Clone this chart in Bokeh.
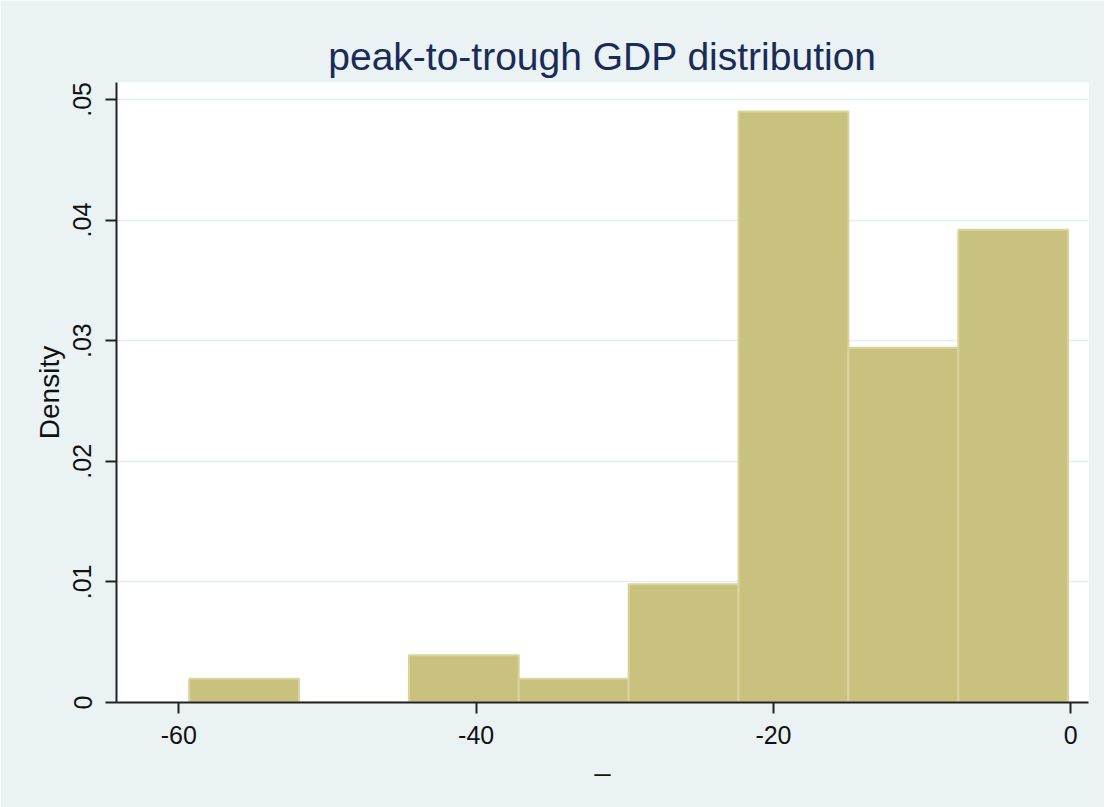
from bokeh.plotting import figure
from bokeh.models import FixedTicker, Range1d
from bokeh.embed import file_html
from bokeh.resources import INLINE

# histogram bins (left/right edges) and densities
bin_left = [-59.30, -51.91, -44.52, -37.13, -29.74, -22.35, -14.96, -7.57]
bin_right = [-51.91, -44.52, -37.13, -29.74, -22.35, -14.96, -7.57, -0.18]
density = [0.00196, 0.0, 0.00392, 0.00196, 0.0098, 0.0490, 0.0294, 0.0392]

x_ticks = [-60, -40, -20, 0]
x_tick_labels = ["-60", "-40", "-20", "0"]
y_ticks = [0, 0.01, 0.02, 0.03, 0.04, 0.05]
y_tick_labels = ["0", ".01", ".02", ".03", ".04", ".05"]

title_text = "peak-to-trough GDP distribution"
x_label = "_"
y_label = "Density"

BG = "#EAF2F3"
FONT = "Liberation Sans"

p = figure(width=1104, height=807, output_backend="svg", toolbar_location=None,
           x_range=Range1d(-64.19, 1.19), y_range=Range1d(0, 0.0514),
           min_border_left=116, min_border_right=16, min_border_top=82, min_border_bottom=105)
p.background_fill_color = "white"
p.border_fill_color = BG
p.outline_line_color = None

p.title.text = title_text
p.title.align = "center"
p.title.text_font = FONT
p.title.text_font_style = "normal"
p.title.text_font_size = "39px"
p.title.text_color = "#1A2B57"
p.title.standoff = 9

p.quad(left=bin_left, right=bin_right, bottom=0, top=density,
       fill_color="#C9C27F", line_color="#D9D49E", line_width=2)

p.xgrid.visible = False
p.ygrid.grid_line_color = "#E4EDEF"
p.ygrid.grid_line_width = 1.5

for ax in (p.xaxis[0], p.yaxis[0]):
    ax.axis_line_color = "#222222"
    ax.axis_line_width = 2
    ax.major_tick_line_color = "#222222"
    ax.major_tick_line_width = 2
    ax.major_tick_out = 11
    ax.major_tick_in = 0
    ax.minor_tick_line_color = None
    ax.major_label_text_font = FONT
    ax.major_label_text_font_size = "25px"
    ax.major_label_text_color = "#111111"
    ax.axis_label_text_font = FONT
    ax.axis_label_text_font_size = "28px"
    ax.axis_label_text_font_style = "normal"
    ax.axis_label_text_color = "#111111"

p.xaxis.ticker = FixedTicker(ticks=x_ticks)
p.xaxis.major_label_overrides = dict(zip(x_ticks, x_tick_labels))
p.xaxis.major_label_standoff = 12
p.xaxis.axis_label = x_label
p.xaxis.axis_label_standoff = -2

p.yaxis.ticker = FixedTicker(ticks=y_ticks)
p.yaxis.major_label_overrides = dict(zip(y_ticks, y_tick_labels))
p.yaxis.major_label_orientation = "vertical"
p.yaxis.major_label_standoff = 14
p.yaxis.axis_label = y_label
p.yaxis.axis_label_standoff = 6

open("out.html", "w").write(file_html(p, INLINE))
